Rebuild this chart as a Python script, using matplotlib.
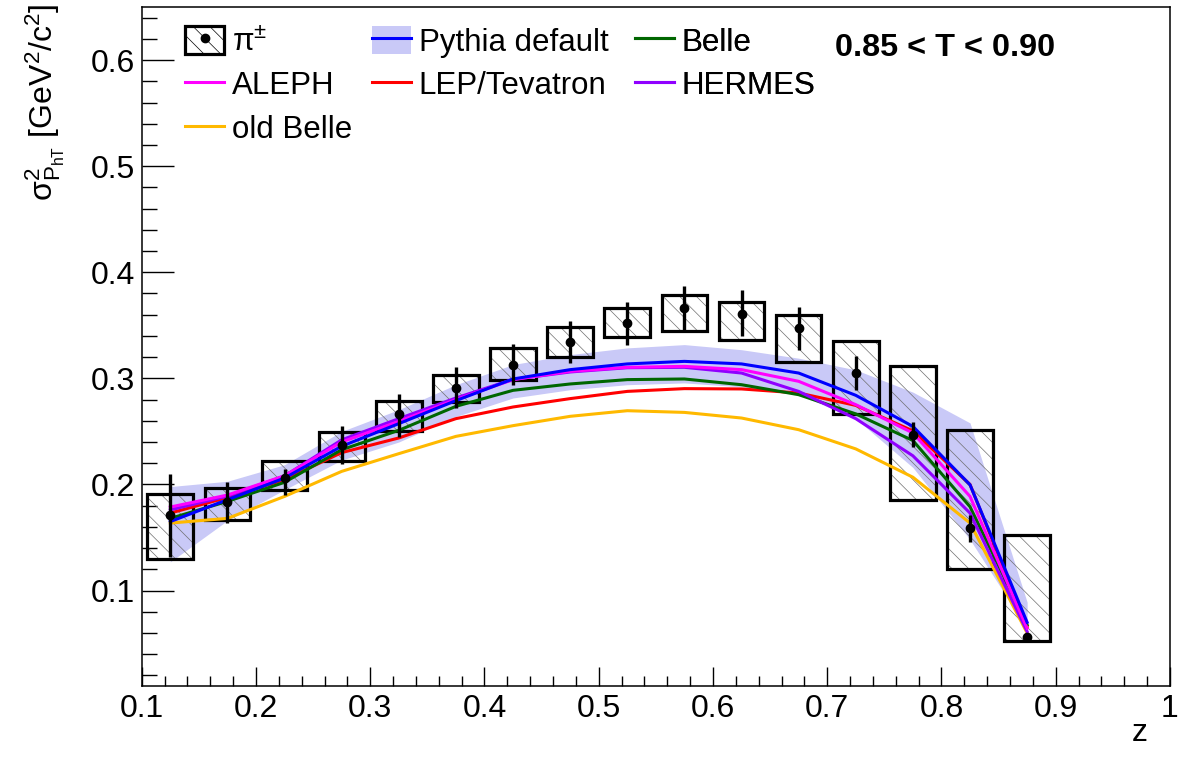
import matplotlib
matplotlib.use("Agg")
import matplotlib.pyplot as plt
from matplotlib.patches import Patch
from matplotlib.lines import Line2D

plt.rcParams['font.family'] = ['Liberation Sans', 'DejaVu Sans']
plt.rcParams['mathtext.fontset'] = 'custom'
plt.rcParams['mathtext.rm'] = 'Liberation Sans'
plt.rcParams['mathtext.it'] = 'Liberation Sans:italic'
plt.rcParams['mathtext.bf'] = 'Liberation Sans:bold'
plt.rcParams['hatch.linewidth'] = 0.5

# data
z = [0.125, 0.175, 0.225, 0.275, 0.325, 0.375, 0.425, 0.475,
     0.525, 0.575, 0.625, 0.675, 0.725, 0.775, 0.825, 0.875]

pi_val = [0.171, 0.183, 0.206, 0.237, 0.266, 0.291, 0.313, 0.334,
          0.352, 0.366, 0.361, 0.347, 0.305, 0.247, 0.159, 0.056]
stat_hi = [0.210, 0.202, 0.2145, 0.255, 0.285, 0.311, 0.332, 0.354,
           0.372, 0.3875, 0.383, 0.367, 0.321, 0.2585, 0.171, 0.058]
stat_lo = [0.132, 0.164, 0.190, 0.219, 0.245, 0.272, 0.294, 0.3145,
           0.331, 0.344, 0.340, 0.327, 0.289, 0.235, 0.146, 0.054]
sys_hi = [0.191, 0.197, 0.2225, 0.249, 0.279, 0.3035, 0.3287, 0.3485,
          0.3664, 0.3783, 0.3717, 0.360, 0.335, 0.312, 0.251, 0.1525]
sys_lo = [0.130, 0.1667, 0.1943, 0.2217, 0.250, 0.278, 0.2988, 0.3198,
          0.339, 0.3443, 0.3358, 0.3151, 0.2667, 0.1856, 0.1202, 0.052]

pythia = [0.165, 0.1856, 0.206, 0.236, 0.2573, 0.279, 0.2994, 0.3082,
          0.3136, 0.316, 0.3136, 0.305, 0.284, 0.2547, 0.1997, 0.070]
pythia_hi = [0.198, 0.203, 0.2186, 0.250, 0.2705, 0.294, 0.313, 0.3224,
             0.3287, 0.3318, 0.327, 0.319, 0.308, 0.287, 0.258, 0.089]
pythia_lo = [0.127, 0.166, 0.195, 0.223, 0.240, 0.264, 0.2815, 0.2893,
             0.294, 0.2957, 0.292, 0.2846, 0.262, 0.216, 0.148, 0.064]
aleph = [0.1787, 0.190, 0.2082, 0.240, 0.2594, 0.280, 0.2988, 0.3066,
         0.3104, 0.3113, 0.3082, 0.2972, 0.2752, 0.2485, 0.1887, 0.0645]
hermes = [0.176, 0.189, 0.208, 0.242, 0.262, 0.2815, 0.299, 0.306,
          0.310, 0.3104, 0.305, 0.2877, 0.262, 0.227, 0.173, 0.0613]
lep = [0.173, 0.1877, 0.2045, 0.230, 0.2438, 0.262, 0.273, 0.2809,
       0.2877, 0.2903, 0.290, 0.2862, 0.2745, 0.2505, 0.200, 0.066]
belle = [0.168, 0.184, 0.202, 0.2327, 0.251, 0.2736, 0.2887, 0.2947,
         0.2988, 0.2994, 0.294, 0.2846, 0.2665, 0.2414, 0.179, 0.0676]
old_belle = [0.1636, 0.168, 0.1887, 0.2123, 0.229, 0.2453, 0.2554, 0.2642,
             0.2695, 0.2679, 0.2626, 0.2516, 0.2335, 0.2068, 0.1636, 0.060]

c_band = '#c9c9f7'
c_blue = '#0000ff'
c_mag = '#ff00ff'
c_red = '#ff0000'
c_org = '#ffb900'
c_grn = '#006600'
c_pur = '#9000ff'

fig = plt.figure(figsize=(11.82, 7.63), dpi=100)
ax = fig.add_axes([0.1199, 0.1009, 0.8699, 0.8899])

ax.fill_between(z, pythia_lo, pythia_hi, color=c_band, lw=0, zorder=1)

heights = [h - l for h, l in zip(sys_hi, sys_lo)]
ax.bar(z, heights, width=0.04, bottom=sys_lo, fill=False, hatch='\\\\',
       edgecolor='#707070', lw=0, zorder=2)
ax.bar(z, heights, width=0.04, bottom=sys_lo, fill=False,
       edgecolor='black', lw=2.3, zorder=3)

lw = 2.2
ax.plot(z, old_belle, color=c_org, lw=lw, zorder=4)
ax.plot(z, lep, color=c_red, lw=lw, zorder=4)
ax.plot(z, belle, color=c_grn, lw=lw, zorder=4)
ax.plot(z, hermes, color=c_pur, lw=lw, zorder=4)
ax.plot(z, aleph, color=c_mag, lw=lw, zorder=4)
ax.plot(z, pythia, color=c_blue, lw=lw, zorder=4)

yerr = [[v - l for v, l in zip(pi_val, stat_lo)],
        [h - v for v, h in zip(pi_val, stat_hi)]]
ax.errorbar(z, pi_val, yerr=yerr, fmt='o', color='black', ms=6,
            elinewidth=2.4, capsize=0, zorder=5)

ax.set_xlim(0.1, 1.0)
ax.set_ylim(0.01, 0.65)
ax.set_xticks([0.1, 0.2, 0.3, 0.4, 0.5, 0.6, 0.7, 0.8, 0.9, 1.0])
ax.set_xticklabels(['0.1', '0.2', '0.3', '0.4', '0.5', '0.6', '0.7', '0.8', '0.9', '1'])
ax.set_xticks([0.1 + 0.02 * i for i in range(46)], minor=True)
ax.set_yticks([0.1, 0.2, 0.3, 0.4, 0.5, 0.6])
ax.set_yticks([0.02 + 0.02 * i for i in range(32)], minor=True)
ax.tick_params(axis='both', which='both', direction='in', top=False,
               right=False, labelsize=23, width=1.0)
ax.tick_params(axis='x', which='major', length=14, pad=6)
ax.tick_params(axis='x', which='minor', length=7)
ax.tick_params(axis='y', which='major', length=23, pad=5)
ax.tick_params(axis='y', which='minor', length=11)
for s in ax.spines.values():
    s.set_linewidth(1.1)

fig.text(1148 / 1182, 1 - 733 / 763, 'z', ha='right', va='center', fontsize=23)
fig.text(45 / 1182, 1 - 4 / 763,
         r'$\mathrm{\sigma^{2}_{P_{hT}}}$ [GeV$^{2}$/c$^{2}$]',
         rotation=90, ha='center', va='top', fontsize=23)

ax.text(0.674, 0.9396, '0.85 < T < 0.90', transform=ax.transAxes,
        fontsize=23.3, fontweight='bold', ha='left', va='center')

h_pi = (Patch(facecolor='none', edgecolor='black', hatch='\\\\', lw=2.3),
        Line2D([], [], marker='o', color='black', ls='none', ms=6))
h_py = (Patch(facecolor=c_band, edgecolor='none'),
        Line2D([], [], color=c_blue, lw=lw))

# three legend columns, placed one by one like the ROOT legend
columns = [
    (0.0421, [h_pi, Line2D([], [], color=c_mag, lw=lw), Line2D([], [], color=c_org, lw=lw)],
     [r'π$^{\pm}$', 'ALEPH', 'old Belle']),
    (0.2239, [h_py, Line2D([], [], color=c_red, lw=lw)],
     ['Pythia default', 'LEP/Tevatron']),
    (0.4797, [Line2D([], [], color=c_grn, lw=lw), Line2D([], [], color=c_pur, lw=lw)],
     ['Belle', 'HERMES']),
]
for xpos, hs, ls in columns:
    leg = ax.legend(hs, ls, loc='upper left', bbox_to_anchor=(xpos, 0.972),
                    frameon=False, fontsize=22.5, borderpad=0, borderaxespad=0,
                    handlelength=1.25, handleheight=1.0, handletextpad=0.25,
                    labelspacing=0.38)
    ax.add_artist(leg)

fig.savefig('out.png', dpi=100)
